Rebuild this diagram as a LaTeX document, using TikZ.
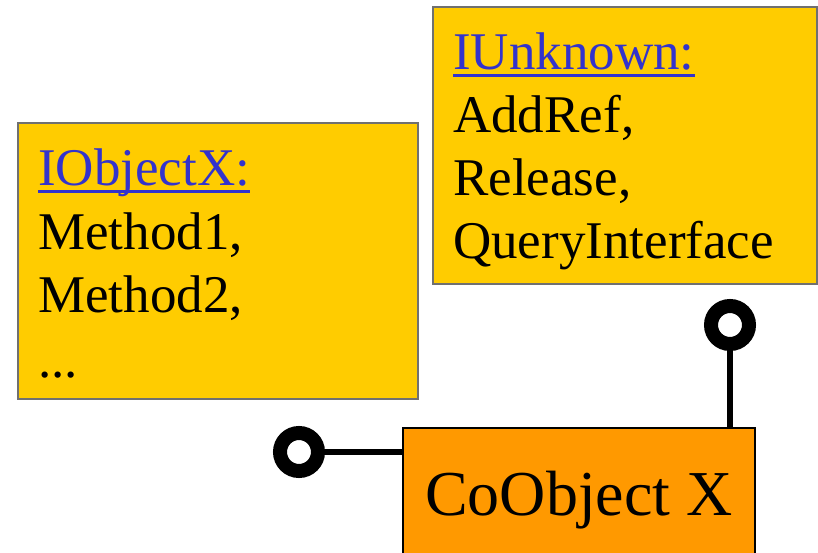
\documentclass[tikz,border=0pt]{standalone}
\usepackage{fontspec}
\setmainfont{Liberation Serif}
\definecolor{boxyellow}{HTML}{FFCC00}
\definecolor{boxorange}{HTML}{FF9900}
\definecolor{ifblue}{HTML}{3333CC}
\definecolor{boxgray}{HTML}{707070}
\tikzset{
  ifbox/.style={draw=boxgray, line width=1.5pt, fill=boxyellow},
  cobox/.style={draw=black, line width=2pt, fill=boxorange},
  txt/.style={inner sep=0pt, anchor=base west, font=\fontsize{53}{63}\selectfont},
  iftitle/.style={txt, text=ifblue},
  ulin/.style={draw=ifblue, line width=3pt},
  lolly/.style={circle, draw=black, line width=14pt, fill=white, minimum size=38pt, inner sep=0pt},
  stem/.style={draw=black, line width=6pt}
}
\begin{document}
\begin{tikzpicture}[x=1pt,y=-1pt]
\useasboundingbox (0,0) rectangle (818,553);
\clip (0,0) rectangle (818,553);
% left interface box
\path[ifbox] (18,123) rectangle (418,399);
\node[iftitle] (tx) at (38,186) {IObjectX:};
\draw[ulin] ([yshift=-6pt]tx.base west) -- ([yshift=-6pt]tx.base east);
\node[txt] (m1) at (38,249) {Method1,};
\node[txt] (m2) at (38,312) {Method2,};
\node[txt] (m3) at (38,377) {...};
% right interface box
\path[ifbox] (433,7) rectangle (817,284);
\node[iftitle] (tu) at (453,70) {IUnknown:};
\draw[ulin] ([yshift=-6pt]tu.base west) -- ([yshift=-6pt]tu.base east);
\node[txt] (u1) at (453,133) {AddRef,};
\node[txt] (u2) at (453,196) {Release,};
\node[txt] (u3) at (453,258) {QueryInterface};
% component
\node[cobox, minimum width=352pt, minimum height=160pt, inner sep=0pt, anchor=north west] (co) at (402,427) {};
\node[inner sep=0pt, anchor=base west, font=\fontsize{64}{76}\selectfont] (cot) at (425,515) {CoObject X};
% lollipops
\node[lolly] (lolT) at (730,325) {};
\node[lolly] (lolL) at (299,452) {};
\draw[stem] (lolT.south) -- (lolT |- co.north);
\draw[stem] (lolL.east) -- (lolL -| co.west);
\end{tikzpicture}
\end{document}
